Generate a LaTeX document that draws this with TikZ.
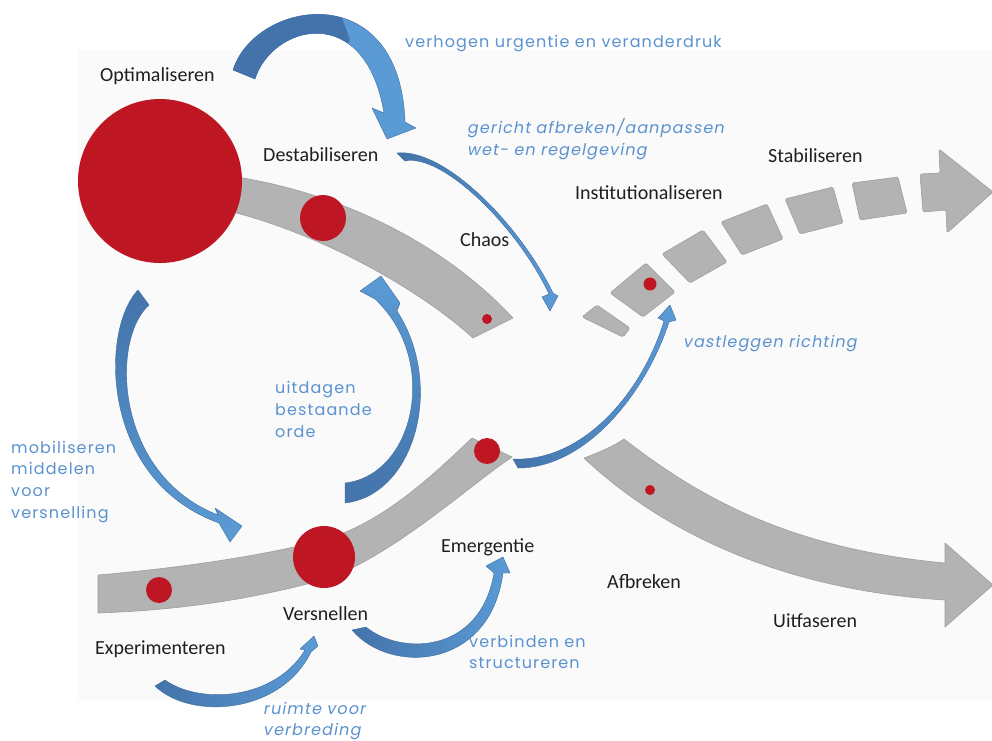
\documentclass[tikz,border=0pt]{standalone}
\usepackage{fontspec}
\setmainfont{Carlito}
\newfontfamily\bluefont[LetterSpace=7]{Poppins}
\newfontfamily\blueit[FakeSlant=0.18,LetterSpace=7]{Poppins}
\definecolor{bandgray}{RGB}{179,179,179}
\definecolor{bandline}{RGB}{158,158,158}
\definecolor{dotred}{RGB}{190,22,34}
\definecolor{bdark}{RGB}{67,115,170}
\definecolor{blight}{RGB}{91,155,213}
\definecolor{bline}{RGB}{62,108,160}
\definecolor{btext}{RGB}{91,146,208}
\definecolor{bgc}{RGB}{250,250,250}
\newcommand\arrowApath{(233,70) .. controls (255,0) and (400,-25) .. (405,122) -- (416,128) -- (387,139) -- (372,108) -- (384,113) .. controls (365,0) and (272,25) .. (255,79) -- cycle}
\tikzset{
 band/.style={fill=bandgray, draw=bandline, line width=0.6pt, line join=round},
 dot/.style={fill=dotred},
 lbl/.style={anchor=base west, inner sep=0pt, font=\fontsize{20}{24}\selectfont, text=black!88},
 note/.style={anchor=base west, inner sep=0pt, font=\bluefont\fontsize{16}{22}\selectfont, text=btext},
 noteit/.style={anchor=base west, inner sep=0pt, font=\blueit\fontsize{16}{22}\selectfont, text=btext},
 barrow/.style={draw=bline, line width=0.4pt, line join=round},
}
\begin{document}
\begin{tikzpicture}[x=1pt,y=-1pt]
\useasboundingbox (0,0) rectangle (992,740);
\fill[white] (0,0) rectangle (992,740);
\fill[bgc] (78,50) rectangle (992,700);

% gray bands
\path[band] (200,172) .. controls (330,185) and (440,240) .. (513,318) -- (473,338) .. controls (415,285) and (300,222) .. (200,205) -- cycle;
\path[band] (98,575) .. controls (180,568) and (260,556) .. (320,541) .. controls (380,525) and (430,478) .. (472,438) -- (512,457) .. controls (470,485) and (400,550) .. (330,578) .. controls (250,600) and (180,610) .. (98,613) -- cycle;
\path[band] (584,458) .. controls (600,452) and (614,446) .. (624,439) .. controls (690,490) and (780,548) .. (945,563) -- (945,543) -- (993,585) -- (945,627) -- (945,600) .. controls (780,590) and (660,530) .. (584,458) -- cycle;

% dashed arrow pieces
\begin{scope}[rounded corners=1.5pt]
\path[band] (582,317) -- (597,305) -- (630,328) -- (623,337) -- cycle;
\path[band] (610,293) -- (646,263) -- (675,292) -- (643,317) -- cycle;
\path[band] (662,254) -- (703,230) -- (727,262) -- (690,283) -- cycle;
\path[band] (721,222) -- (767,204) -- (783,239) -- (742,255) -- cycle;
\path[band] (785,199) -- (833,187) -- (843,223) -- (800,234) -- cycle;
\path[band] (852,183) -- (898,177) -- (907,213) -- (860,220) -- cycle;
\path[band] (920,174) -- (940,173) -- (939,149) -- (993,192) -- (947,233) -- (946,210) -- (923,212) -- cycle;
\end{scope}

% red dots
\fill[dot] (160,181) circle (82pt);
\fill[dot] (323,218) circle (23pt);
\fill[dot] (487,319) circle (5pt);
\fill[dot] (487,451) circle (13pt);
\fill[dot] (324,557) circle (31pt);
\fill[dot] (159,590) circle (13pt);
\fill[dot] (650,284) circle (6.5pt);
\fill[dot] (650,490) circle (5pt);

% blue curved arrows
\fill[blight] \arrowApath;
\begin{scope}
\clip (220,-10) -- (332,-10) -- (350,40) -- (300,110) -- (220,110) -- cycle;
\fill[bdark] \arrowApath;
\end{scope}
\draw[barrow] \arrowApath;

\shade[barrow, left color=bdark, right color=blight] (397,153) .. controls (445,148) and (520,225) .. (553,293) -- (558,296) -- (550,311) -- (542,297) -- (549,294) .. controls (518,228) and (443,153) .. (405,161) -- cycle;
\shade[barrow, left color=bdark, right color=blight] (518,468) .. controls (585,468) and (645,395) .. (669,322) -- (676,320) -- (670,305) -- (658,318) -- (664,321) .. controls (642,393) and (583,462) .. (513,459) -- cycle;
\shade[barrow, top color=bdark, bottom color=blight] (138,290) .. controls (100,330) and (100,480) .. (219,523) -- (230,542) -- (242,526) -- (215,508) -- (218,515) .. controls (115,475) and (110,340) .. (149,305) -- cycle;
\shade[barrow, bottom color=bdark, top color=blight] (345,503) .. controls (415,495) and (445,385) .. (397,311) -- (400,303) -- (381,276) -- (360,291) -- (375,299) .. controls (440,360) and (415,475) .. (345,483) -- cycle;
\shade[barrow, left color=bdark, right color=blight] (155,686) .. controls (190,720) and (280,715) .. (311,652) -- (318,646) -- (314,636) -- (300,649) -- (305,650) .. controls (275,700) and (200,705) .. (165,680) -- cycle;
\shade[barrow, left color=bdark, right color=blight] (352,630) .. controls (390,675) and (490,670) .. (503,573) -- (510,573) -- (503,557) -- (486,566) -- (494,573) .. controls (480,655) and (400,655) .. (366,627) -- cycle;

% black labels
\node[lbl] (opt) at (100,81) {Optimaliseren};
\node[lbl] (dest) at (263,161) {Destabiliseren};
\node[lbl] (chaos) at (460,246) {Chaos};
\node[lbl] (inst) at (575,199) {Institutionaliseren};
\node[lbl] (stab) at (768,162) {Stabiliseren};
\node[lbl] (emer) at (441,552) {Emergentie};
\node[lbl] (afbr) at (607,588) {Afbreken};
\node[lbl] (uitf) at (773,627) {Uitfaseren};
\node[lbl] (vers) at (283,620) {Versnellen};
\node[lbl] (exp) at (95,654) {Experimenteren};

% blue labels
\node[note] (n1) at (405,47) {verhogen urgentie en veranderdruk};
\node[noteit] (n2a) at (467,133) {gericht afbreken/aanpassen};
\node[noteit] (n2b) at (467,155) {wet- en regelgeving};
\node[noteit] (n3) at (683,347) {vastleggen richting};
\node[note] (n4a) at (275,393) {uitdagen};
\node[note] (n4b) at (275,415) {bestaande};
\node[note] (n4c) at (275,437) {orde};
\node[note] (n5a) at (11,453) {mobiliseren};
\node[note] (n5b) at (11,474) {middelen};
\node[note] (n5c) at (11,496) {voor};
\node[note] (n5d) at (11,518) {versnelling};
\node[noteit] (n6a) at (263,714) {ruimte voor};
\node[noteit] (n6b) at (263,735) {verbreding};
\node[note] (n7a) at (469,647) {verbinden en};
\node[note] (n7b) at (469,668) {structureren};
\end{tikzpicture}
\end{document}
